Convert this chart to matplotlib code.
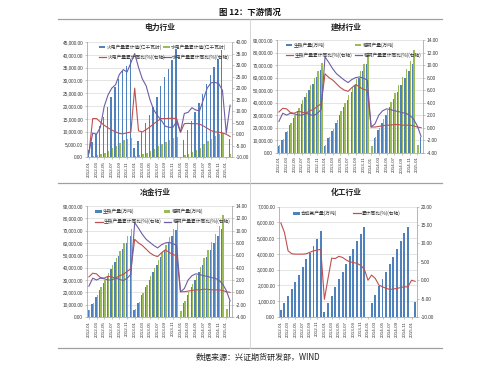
import numpy as np
import matplotlib
matplotlib.use('Agg')
import matplotlib.pyplot as plt
from matplotlib.lines import Line2D
from matplotlib.patches import Rectangle
from matplotlib.ticker import FuncFormatter

plt.rcParams['font.family'] = ['Liberation Sans', 'Noto Sans CJK SC', 'DejaVu Sans']
plt.rcParams['axes.unicode_minus'] = False

W, H = 500, 369
nan = np.nan

# ---------------- data ----------------
months = ["2012-01", "2012-02", "2012-03", "2012-04", "2012-05", "2012-06",
          "2012-07", "2012-08", "2012-09", "2012-10", "2012-11", "2012-12",
          "2013-01", "2013-02", "2013-03", "2013-04", "2013-05", "2013-06",
          "2013-07", "2013-08", "2013-09", "2013-10", "2013-11", "2013-12",
          "2014-01", "2014-02", "2014-03", "2014-04", "2014-05", "2014-06",
          "2014-07", "2014-08", "2014-09", "2014-10", "2014-11", "2014-12",
          "2015-01", "2015-02"]
tick_labels = months[::2]

# 电力行业
thermal_cum = [2800, 6000, 9200, 12400, 15600, 19500, 23500, 27500, 30500, 33500, 35800, 38500,
               3500, 6400, 10000, 13300, 16600, 19700, 23700, 27800, 31300, 34600, 38000, 42400,
               nan, 6700, 10500, 14000, 17500, 21000, 24800, 28500, 32000, 35200, 38500, 42000,
               nan, 7000]
hydro_cum = [300, 700, 1000, 1300, 1700, 2500, 3500, 4500, 5400, 6600, 7300, 7700,
             400, 800, 1200, 1700, 2300, 3200, 4300, 5300, 6100, 6800, 7400, 7900,
             nan, 900, 1400, 2000, 2800, 3800, 5000, 6200, 7300, 8200, 8900, 9400,
             nan, 1100]
thermal_yoy = [-8.4, 6.8, 6.8, 5.3, 3.9, 2.8, 1.8, 1.0, 0.3, 0.2, 0.6, 1.0,
               20.0, 1.5, 1.0, 2.0, 3.2, 4.5, 5.8, 6.8, 6.8, 6.9, 6.9, 6.8,
               0.8, 4.6, 4.7, 4.6, 4.6, 4.4, 3.6, 2.6, 1.6, 1.0, 0.9, 0.6,
               0.0, -1.0]
hydro_yoy = [-8.0, 0.5, 0.0, 3.0, 12.0, 17.0, 20.0, 21.5, 26.0, 28.0, 27.0, 31.0,
             35.0, 29.0, 24.0, 21.0, 15.0, 10.5, 8.0, 6.0, 3.5, 3.0, 3.0, 5.5,
             1.0, 9.0, 9.5, 11.5, 10.5, 10.2, 15.0, 20.0, 22.3, 22.5, 22.0, 19.0,
             0.5, 12.6]

# 建材行业 / 冶金行业 (same series in both charts)
pig_iron = [5300, 10500, 16400, 22000, 27800, 33300, 39000, 44500, 49800, 55200, 60400, 65800,
            5500, 11500, 17700, 24000, 30300, 36200, 42300, 48300, 54100, 60000, 65600, 70900,
            nan, 11700, 18000, 24000, 30300, 36400, 42500, 48300, 54100, 60000, 65600, 71200,
            nan, 12600]
crude_steel = [5800, 11300, 17700, 24000, 30300, 36000, 42000, 47900, 53700, 59600, 65500, 71600,
               6200, 12400, 19300, 26200, 33000, 39500, 46000, 52400, 58700, 65000, 71100, 77900,
               5000, 12900, 20000, 27100, 34100, 40800, 47500, 54100, 60600, 67100, 73600, 82300,
               6100, nan]
pig_iron_yoy = [2.5, 3.1, 3.0, 2.4, 2.3, 2.6, 2.5, 2.3, 2.7, 2.9, 3.4, 3.8,
                8.6, 8.0, 7.6, 7.0, 6.4, 6.0, 5.8, 6.4, 6.9, 6.5, 6.1, 6.0,
                0.1, 0.1, 0.2, 0.3, 0.4, 0.4, 0.5, 0.5, 0.4, 0.4, 0.4, 0.3,
                0.1, 0.0]
crude_steel_yoy = [1.0, 2.3, 2.0, 2.3, 2.2, 2.0, 2.0, 2.3, 2.1, 1.9, 2.3, 2.9,
                   11.3, 10.4, 9.4, 8.6, 8.1, 7.6, 7.2, 7.7, 8.0, 8.1, 7.9, 7.6,
                   0.1, 0.6, 2.0, 2.7, 3.0, 2.9, 2.7, 2.6, 2.4, 2.3, 2.0, 1.4,
                   0.3, -1.4]

# 化工行业
ammonia = [445, 900, 1330, 1760, 2240, 2680, 3170, 3650, 4080, 4500, 4950, 5450,
           340, 870, 1350, 1880, 2400, 2870, 3370, 3840, 4300, 4820, 5250, 5720,
           nan, 910, 1400, 1940, 2400, 2880, 3360, 3800, 4300, 4820, 5300, 5680,
           nan, 950]
ammonia_yoy = [15.6, 13.0, 8.0, 7.2, 7.1, 7.1, 7.1, 7.2, 7.6, 8.0, 8.2, 8.4,
               -5.2, 0.5, 6.0, 5.9, 6.5, 6.2, 5.5, 5.0, 4.8, 4.6, 4.0, 3.0,
               0.0, 1.4, 0.5, -1.3, -1.8, -2.2, -2.5, -2.4, -2.2, -2.0, -1.8, -1.8,
               0.0, -0.3]

BLUE = '#4F81BD'
GREEN = '#9BBB59'
RED = '#C0504D'
PURPLE = '#6F5DA6'
AXC = '#9A9A9A'
GRID = '#D9D9D9'

fig = plt.figure(figsize=(W / 100, H / 100), dpi=100)
fig.patch.set_facecolor('white')


def fx(x):
    return x / W


def fy(y):
    return 1 - y / H


def px_rect(l, t, r, b):
    return [l / W, 1 - b / H, (r - l) / W, (b - t) / H]


def make_panel(rect, ylim, yticks, y2lim, y2ticks):
    ax = fig.add_axes(px_rect(*rect))
    ax2 = ax.twinx()
    ax.set_xlim(-0.5, len(months) - 0.5)
    ax.set_ylim(*ylim)
    ax.set_yticks(yticks)
    ax2.set_ylim(*y2lim)
    ax2.set_yticks(y2ticks)
    ax.yaxis.set_major_formatter(FuncFormatter(lambda v, p: f"{v:,.2f}"))
    ax2.yaxis.set_major_formatter(FuncFormatter(lambda v, p: f"{v:.2f}"))
    ax.set_xticks(range(0, len(months), 2))
    ax.set_xticklabels(tick_labels, rotation=90, fontsize=3.2, color='#333333')
    ax.tick_params(axis='x', length=1.2, width=0.4, color=AXC, pad=1.5)
    ax.tick_params(axis='y', labelsize=3.4, length=1.2, width=0.4, color=AXC,
                   pad=1.6, labelcolor='#333333')
    ax2.tick_params(axis='y', labelsize=3.4, length=1.2, width=0.4, color=AXC,
                    pad=1.6, labelcolor='#333333')
    ax.yaxis.grid(True, color=GRID, lw=0.5)
    ax.set_axisbelow(True)
    for s in ['top', 'right']:
        ax.spines[s].set_visible(False)
    for s in ['left', 'bottom']:
        ax.spines[s].set_color(AXC)
        ax.spines[s].set_linewidth(0.5)
    for s in ['top', 'left', 'bottom']:
        ax2.spines[s].set_visible(False)
    ax2.spines['right'].set_color(AXC)
    ax2.spines['right'].set_linewidth(0.5)
    return ax, ax2


def legend_item(x, y, kind, color, label):
    if kind == 'patch':
        fig.add_artist(Rectangle((fx(x), fy(y + 1.4)), 6.5 / W, 2.8 / H,
                                 transform=fig.transFigure, color=color, lw=0))
        tx = x + 8
    else:
        fig.add_artist(Line2D([fx(x), fx(x + 7.5)], [fy(y), fy(y)],
                              transform=fig.transFigure, color=color, lw=0.9))
        tx = x + 9
    fig.text(fx(tx), fy(y), label, fontsize=3.4, va='center', ha='left',
             color='#333333', family=['Noto Sans CJK SC', 'DejaVu Sans'])


x = np.arange(len(months))
bw = 0.36

# ---- 电力行业 ----
ax, ax2 = make_panel((87, 42, 232, 157.3), (0, 45000), np.arange(0, 45001, 5000),
                     (-10, 40), np.arange(-10, 41, 5))
ax.bar(x - bw / 2, thermal_cum, width=bw, color=BLUE, lw=0)
ax.bar(x + bw / 2, hydro_cum, width=bw, color=GREEN, lw=0)
ax2.plot(x, thermal_yoy, color=RED, lw=0.8)
ax2.plot(x, hydro_yoy, color=PURPLE, lw=0.8)
legend_item(98.5, 47, 'patch', BLUE, '火电产量累计值(亿千瓦时)')
legend_item(163, 47, 'patch', GREEN, '水电产量累计值(亿千瓦时)')
legend_item(98.5, 57, 'line', RED, '火电产量累计同比(%)(右轴)')
legend_item(163, 57, 'line', PURPLE, '水电产量累计同比(%)(右轴)')
fig.text(fx(159.5), fy(27), '电力行业', fontsize=5.6, fontweight='bold', ha='center',
         va='center', family=['Noto Sans CJK SC', 'DejaVu Sans'], color='#222222')

# ---- 建材行业 ----
ax, ax2 = make_panel((277, 40, 423, 152.7), (0, 90000), np.arange(0, 90001, 10000),
                     (-4, 14), np.arange(-4, 14.1, 2))
ax.bar(x - bw / 2, pig_iron, width=bw, color=BLUE, lw=0)
ax.bar(x + bw / 2, crude_steel, width=bw, color=GREEN, lw=0)
ax2.plot(x, pig_iron_yoy, color=RED, lw=0.8)
ax2.plot(x, crude_steel_yoy, color=PURPLE, lw=0.8)
legend_item(285.5, 45, 'patch', BLUE, '生铁产量(万吨)')
legend_item(354.5, 45, 'patch', GREEN, '粗钢产量(万吨)')
legend_item(285.5, 55, 'line', RED, '生铁产量累计同比(%)(右轴)')
legend_item(354.5, 55, 'line', PURPLE, '粗钢产量累计同比(%)(右轴)')
fig.text(fx(346), fy(27), '建材行业', fontsize=5.6, fontweight='bold', ha='center',
         va='center', family=['Noto Sans CJK SC', 'DejaVu Sans'], color='#222222')

# ---- 冶金行业 ----
ax, ax2 = make_panel((87, 206, 232, 317), (0, 90000), np.arange(0, 90001, 10000),
                     (-4, 14), np.arange(-4, 14.1, 2))
ax.bar(x - bw / 2, pig_iron, width=bw, color=BLUE, lw=0)
ax.bar(x + bw / 2, crude_steel, width=bw, color=GREEN, lw=0)
ax2.plot(x, pig_iron_yoy, color=RED, lw=0.8)
ax2.plot(x, crude_steel_yoy, color=PURPLE, lw=0.8)
legend_item(95, 211.7, 'patch', BLUE, '生铁产量(万吨)')
legend_item(163.5, 211.7, 'patch', GREEN, '粗钢产量(万吨)')
legend_item(95, 221.7, 'line', RED, '生铁产量累计同比(%)(右轴)')
legend_item(163.5, 221.7, 'line', PURPLE, '粗钢产量累计同比(%)(右轴)')
fig.text(fx(155), fy(192), '冶金行业', fontsize=5.6, fontweight='bold', ha='center',
         va='center', family=['Noto Sans CJK SC', 'DejaVu Sans'], color='#222222')

# ---- 化工行业 ----
ax, ax2 = make_panel((279, 206.7, 417, 317), (0, 7000), np.arange(0, 7001, 1000),
                     (-10, 20), np.arange(-10, 20.1, 5))
ax.bar(x, ammonia, width=0.55, color=BLUE, lw=0)
ax2.plot(x, ammonia_yoy, color=RED, lw=0.8)
legend_item(293, 213.3, 'patch', BLUE, '合成氨产量(万吨)')
legend_item(353, 213.3, 'line', RED, '累计同比(%)(右轴)')
fig.text(fx(346), fy(192), '化工行业', fontsize=5.6, fontweight='bold', ha='center',
         va='center', family=['Noto Sans CJK SC', 'DejaVu Sans'], color='#222222')

# ---- frame lines, title, source ----
for yy in (19, 183, 348):
    fig.add_artist(Line2D([fx(58), fx(442)], [fy(yy), fy(yy)], transform=fig.transFigure,
                          color='#A0A0A0', lw=0.9))
fig.add_artist(Line2D([fx(250), fx(250)], [fy(19), fy(348)], transform=fig.transFigure,
                      color='#D0D0D0', lw=0.6))

fig.text(fx(250), fy(12.5), '图 12：下游情况', fontsize=6, fontweight='bold', ha='center',
         va='center', family=['Noto Sans CJK SC', 'DejaVu Sans'], color='#111111')
fig.text(fx(258), fy(357.5), '数据来源：兴证期货研发部，WIND', fontsize=5.8, ha='center',
         va='center', family=['Noto Sans CJK SC', 'DejaVu Sans'], color='#222222')

fig.savefig('out.png', dpi=100)
